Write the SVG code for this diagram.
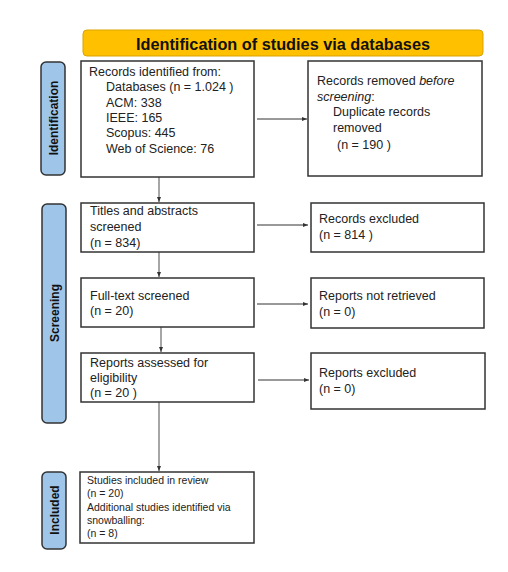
<svg xmlns="http://www.w3.org/2000/svg" width="508" height="572" viewBox="0 0 508 572">
<defs>
<style>
.box{fill:#fff;stroke:#333;stroke-width:1.5}
.bar{fill:#9fc5e8;stroke:#333;stroke-width:1.5}
.t{font-family:"Liberation Sans",Arial,sans-serif;font-size:12.5px;fill:#222}
.s{font-family:"Liberation Sans",Arial,sans-serif;font-size:10.5px;fill:#222}
.bt{font-family:"Liberation Sans",Arial,sans-serif;font-size:12px;font-weight:bold;fill:#111}
.h{font-family:"Liberation Sans",Arial,sans-serif;font-size:16.3px;font-weight:bold;fill:#111}
.ln{stroke:#333;stroke-width:1;fill:none}
.lv{stroke:#888;stroke-width:1.5;fill:none}
</style>
<marker id="ah" markerWidth="6" markerHeight="6" refX="5" refY="3" orient="auto" markerUnits="userSpaceOnUse">
<path d="M0,1 L5,3 L0,5 Z" fill="#333"/>
</marker>
</defs>
<rect width="508" height="572" fill="#fff"/>
<g id="header">
<rect x="83" y="30" width="400" height="26" rx="4" fill="#ffc000" stroke="#d9a300" stroke-width="1"/>
<text class="h" x="283" y="49.5" text-anchor="middle">Identification of studies via databases</text>
</g>
<g id="bar-identification">
<rect class="bar" x="41" y="62" width="24" height="113" rx="5"/>
<text class="bt" transform="translate(57.5,118) rotate(-90)" text-anchor="middle">Identification</text>
</g>
<g id="bar-screening">
<rect class="bar" x="42" y="204" width="24" height="219" rx="5"/>
<text class="bt" transform="translate(58.5,313) rotate(-90)" text-anchor="middle">Screening</text>
</g>
<g id="bar-included">
<rect class="bar" x="42" y="472" width="24" height="77" rx="5"/>
<text class="bt" transform="translate(58.5,510) rotate(-90)" text-anchor="middle">Included</text>
</g>
<g id="connectors">
<line class="ln" x1="257" y1="119" x2="307" y2="119" marker-end="url(#ah)"/>
<line class="ln" x1="257" y1="225" x2="308" y2="225" marker-end="url(#ah)"/>
<line class="ln" x1="257" y1="304" x2="308" y2="304" marker-end="url(#ah)"/>
<line class="ln" x1="258" y1="380" x2="309" y2="380" marker-end="url(#ah)"/>
<line class="lv" x1="159" y1="177" x2="159" y2="202" marker-end="url(#ah)"/>
<line class="lv" x1="159" y1="252" x2="159" y2="277" marker-end="url(#ah)"/>
<line class="lv" x1="161" y1="327" x2="161" y2="352" marker-end="url(#ah)"/>
<line class="lv" x1="159" y1="402" x2="159" y2="471" marker-end="url(#ah)"/>
</g>
<g id="records-identified">
<rect class="box" x="81" y="61" width="173" height="116"/>
<text class="t" x="89" y="76">Records identified from:</text>
<text class="t" x="106" y="91">Databases (n = 1.024 )</text>
<text class="t" x="106" y="107">ACM: 338</text>
<text class="t" x="106" y="122">IEEE: 165</text>
<text class="t" x="106" y="137">Scopus: 445</text>
<text class="t" x="106" y="153">Web of Science: 76</text>
</g>
<g id="records-removed">
<rect class="box" x="308" y="61" width="174" height="115"/>
<text class="t" x="317" y="85">Records removed <tspan font-style="italic">before</tspan></text>
<text class="t" x="317" y="101"><tspan font-style="italic">screening</tspan>:</text>
<text class="t" x="333" y="116">Duplicate records</text>
<text class="t" x="333" y="132">removed</text>
<text class="t" x="337" y="149">(n = 190 )</text>
</g>
<g id="titles-screened">
<rect class="box" x="81" y="203" width="173" height="49"/>
<text class="t" x="90" y="215">Titles and abstracts</text>
<text class="t" x="90" y="231">screened</text>
<text class="t" x="90" y="247">(n = 834)</text>
</g>
<g id="records-excluded">
<rect class="box" x="311" y="203" width="173" height="49"/>
<text class="t" x="319" y="223">Records excluded</text>
<text class="t" x="319" y="239">(n = 814 )</text>
</g>
<g id="fulltext-screened">
<rect class="box" x="81" y="278" width="173" height="49"/>
<text class="t" x="90" y="300">Full-text screened</text>
<text class="t" x="90" y="315">(n = 20)</text>
</g>
<g id="not-retrieved">
<rect class="box" x="311" y="278" width="173" height="50"/>
<text class="t" x="319" y="300">Reports not retrieved</text>
<text class="t" x="319" y="316">(n = 0)</text>
</g>
<g id="assessed">
<rect class="box" x="81" y="353" width="173" height="49"/>
<text class="t" x="90" y="367">Reports assessed for</text>
<text class="t" x="90" y="382">eligibility</text>
<text class="t" x="90" y="397">(n = 20 )</text>
</g>
<g id="reports-excluded">
<rect class="box" x="311" y="353" width="174" height="56"/>
<text class="t" x="319" y="377">Reports excluded</text>
<text class="t" x="319" y="393">(n = 0)</text>
</g>
<g id="included">
<rect class="box" x="80" y="472" width="174" height="71"/>
<text class="s" x="87" y="484">Studies included in review</text>
<text class="s" x="87" y="497">(n = 20)</text>
<text class="s" x="87" y="511">Additional studies identified via</text>
<text class="s" x="87" y="524">snowballing:</text>
<text class="s" x="87" y="537">(n = 8)</text>
</g>
</svg>
